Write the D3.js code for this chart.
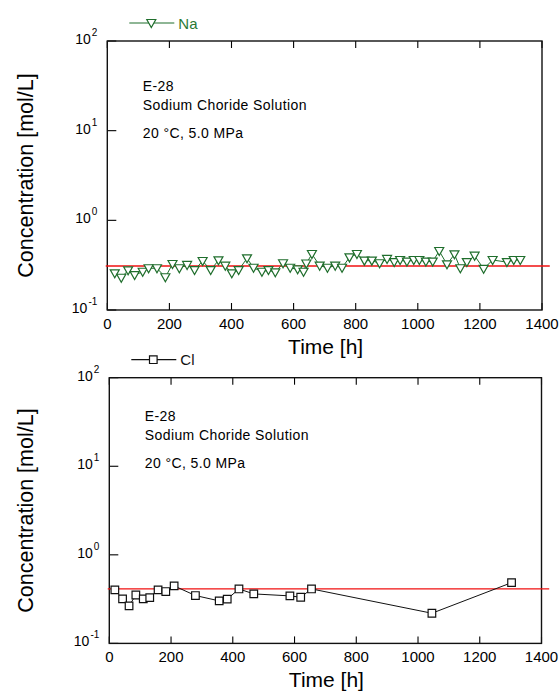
<!DOCTYPE html>
<html>
<head>
    <meta charset="utf-8">
    <title>E-28 Sodium Choride Solution</title>
    <script type="text/javascript" src="https://cdnjs.cloudflare.com/ajax/libs/d3/7.8.5/d3.min.js"></script>
    <style type="text/css">
        body {
            margin: 0;
            background: #fff;
        }
        text {
            font-family: "Liberation Sans", Arial, sans-serif;
        }
    </style>
</head>
<body>
<script type="text/javascript">
    // Na concentration (top panel)
    var naTime = [24, 45, 67, 88, 114, 133, 160, 187, 210, 232, 257, 281, 307, 333, 358, 380, 401, 423, 450,
        471, 498, 519, 541, 566, 589, 613, 632, 641, 659, 684, 709, 734, 756, 780, 804, 828, 852, 877, 901, 924,
        943, 965, 987, 1005, 1026, 1048, 1069, 1094, 1118, 1137, 1158, 1183, 1212, 1241, 1287, 1309, 1330];
    var naConc = [0.256, 0.229, 0.277, 0.245, 0.267, 0.292, 0.292, 0.232, 0.326, 0.292, 0.318, 0.279, 0.352,
        0.279, 0.358, 0.312, 0.256, 0.279, 0.377,
        0.296, 0.267, 0.279, 0.263, 0.332, 0.296, 0.284, 0.267, 0.33, 0.421, 0.312, 0.296, 0.312, 0.296, 0.386,
        0.421, 0.355, 0.355, 0.332, 0.371, 0.342,
        0.361, 0.347, 0.361, 0.361, 0.347, 0.347, 0.455, 0.323, 0.418, 0.292, 0.342, 0.403, 0.288, 0.361,
        0.342, 0.361, 0.361];
    var naRef = 0.31;

    // Cl concentration (bottom panel)
    var clTime = [18, 43, 64, 86, 110, 131, 158, 183, 210, 279, 356, 382, 420, 468, 585, 620, 655, 1045, 1303];
    var clConc = [0.402, 0.318, 0.265, 0.352, 0.318, 0.329, 0.402, 0.385, 0.446, 0.347, 0.302, 0.316, 0.412,
        0.362, 0.344, 0.332, 0.412, 0.219, 0.485];
    var clRef = 0.413;

    var xTicks = [0, 200, 400, 600, 800, 1000, 1200, 1400];
    var yTicks = [0.1, 1, 10, 100];
    var yExp = ["-1", "0", "1", "2"];
    var noteLines = ["E-28", "Sodium Choride Solution", "20 \u00b0C, 5.0 MPa"];

    var w = 560, h = 691;
    var svg = d3.select("body").append("svg")
        .attr("width", w)
        .attr("height", h);

    function drawPanel(p) {
        var x = d3.scaleLinear().domain([0, 1400]).range([p.left, p.right]);
        var y = d3.scaleLog().domain([0.1, 100]).range([p.bottom, p.top]);
        var g = svg.append("g");

        // ticks (inward)
        g.selectAll(".xt").data(xTicks).enter().append("line")
            .attr("x1", function (d) {return x(d);})
            .attr("x2", function (d) {return x(d);})
            .attr("y1", p.bottom).attr("y2", p.bottom - 7)
            .attr("stroke", "#000").attr("stroke-width", 1.1);
        g.selectAll(".xtt").data(xTicks).enter().append("line")
            .attr("x1", function (d) {return x(d);})
            .attr("x2", function (d) {return x(d);})
            .attr("y1", p.top).attr("y2", p.top + 7)
            .attr("stroke", "#000").attr("stroke-width", 1.1);
        g.selectAll(".yt").data(yTicks).enter().append("line")
            .attr("x1", p.left).attr("x2", p.left + 9)
            .attr("y1", function (d) {return y(d);})
            .attr("y2", function (d) {return y(d);})
            .attr("stroke", "#000").attr("stroke-width", 1.1);

        // frame
        g.append("rect")
            .attr("x", p.left).attr("y", p.top)
            .attr("width", p.right - p.left).attr("height", p.bottom - p.top)
            .attr("fill", "none").attr("stroke", "#111").attr("stroke-width", 1.4);

        // tick labels
        g.selectAll(".xl").data(xTicks).enter().append("text")
            .attr("x", function (d) {return x(d);})
            .attr("y", p.bottom + 18.5)
            .attr("text-anchor", "middle")
            .attr("font-size", 15)
            .text(function (d) {return d;});

        var yl = g.selectAll(".yl").data(yTicks).enter().append("text")
            .attr("x", p.left - 10)
            .attr("y", function (d) {return y(d) + 3;})
            .attr("text-anchor", "end")
            .attr("font-size", 14);
        yl.append("tspan").text("10");
        yl.append("tspan")
            .attr("font-size", 10)
            .attr("dx", 1)
            .attr("dy", -8)
            .text(function (d, i) {return yExp[i];});

        // axis titles
        g.append("text")
            .attr("x", (p.left + p.right) / 2 + 1)
            .attr("y", p.bottom + 43.5)
            .attr("text-anchor", "middle")
            .attr("font-size", 21)
            .text("Time [h]");
        g.append("text")
            .attr("transform", "translate(33," + ((p.top + p.bottom) / 2) + ") rotate(-90)")
            .attr("text-anchor", "middle")
            .attr("font-size", 21.5)
            .text("Concentration [mol/L]");

        // notes
        g.selectAll(".note").data(noteLines).enter().append("text")
            .attr("x", p.left + 35.5)
            .attr("y", function (d, i) {return p.top + p.noteY[i];})
            .attr("font-size", 14)
            .attr("letter-spacing", 0.4)
            .text(function (d) {return d;});

        // reference line
        g.append("line")
            .attr("x1", x(-5)).attr("x2", x(1425))
            .attr("y1", y(p.ref)).attr("y2", y(p.ref))
            .attr("stroke", "#f01010").attr("stroke-width", 1.4);

        // data
        var pts = p.time.map(function (t, i) {return [t, p.conc[i]];});
        g.append("path")
            .attr("d", d3.line().x(function (d) {return x(d[0]);}).y(function (d) {return y(d[1]);})(pts))
            .attr("fill", "none")
            .attr("stroke", p.color).attr("stroke-width", 1);

        g.selectAll(".m").data(pts).enter().append("path")
            .attr("transform", function (d) {return "translate(" + x(d[0]) + "," + y(d[1]) + ")";})
            .attr("d", p.marker)
            .attr("fill", "#fff")
            .attr("stroke", p.color).attr("stroke-width", 1.2);

        // legend
        var ly = p.top - 18;
        g.append("line")
            .attr("x1", p.left + 22).attr("x2", p.left + 67)
            .attr("y1", ly).attr("y2", ly)
            .attr("stroke", p.color).attr("stroke-width", 1.2);
        g.append("path")
            .attr("transform", "translate(" + (p.left + 44) + "," + ly + ")")
            .attr("d", p.marker)
            .attr("fill", "#fff")
            .attr("stroke", p.color).attr("stroke-width", 1.2);
        g.append("text")
            .attr("x", p.left + 71)
            .attr("y", ly + 5.5)
            .attr("font-size", 15)
            .attr("fill", p.textColor)
            .text(p.name);
    }

    var tri = "M-4.5,-3.5L4.5,-3.5L0,4.5Z";
    var sq = "M-3.8,-3.8H3.8V3.8H-3.8Z";

    drawPanel({left: 107.3, right: 542, top: 41, bottom: 310,
        time: naTime, conc: naConc, ref: naRef, name: "Na", noteY: [49.5, 69, 97],
        color: "#1f6e2c", textColor: "#2a7a35", marker: tri});
    drawPanel({left: 109.3, right: 541.5, top: 377.7, bottom: 643.4,
        time: clTime, conc: clConc, ref: clRef, name: "Cl", noteY: [43.5, 62.5, 90.5],
        color: "#111", textColor: "#111", marker: sq});
</script>
</body>
</html>
